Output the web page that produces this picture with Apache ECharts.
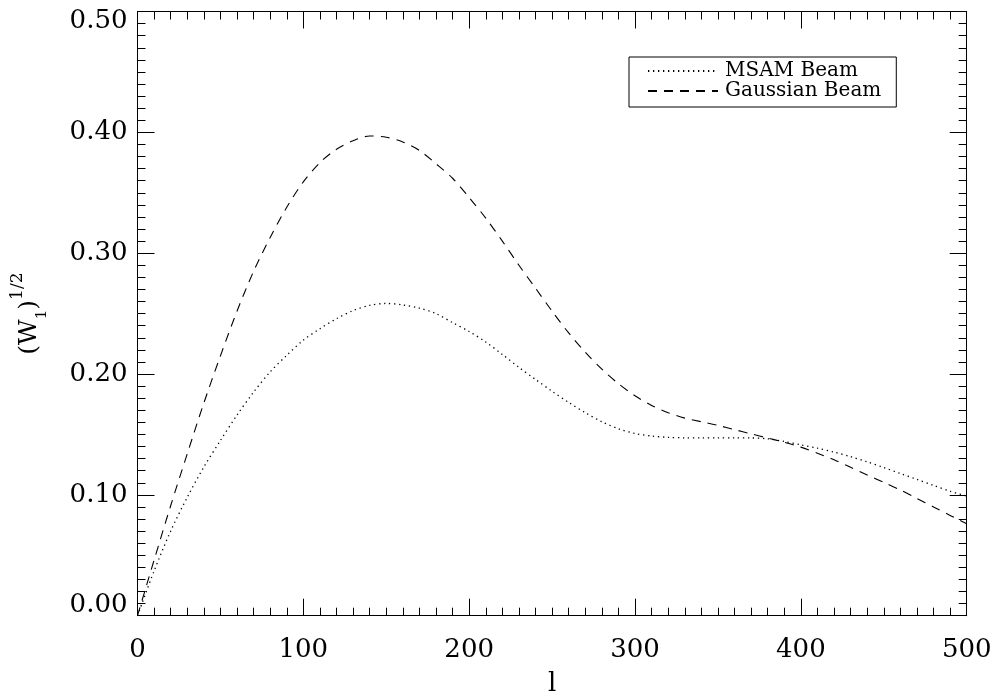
<!DOCTYPE html>
<html>
<head>
<meta charset="utf-8">
<script src="https://cdn.jsdelivr.net/npm/echarts@6/dist/echarts.min.js"></script>
<style>html,body{margin:0;padding:0;background:#fff;}#chart{width:998px;height:694px;}</style>
</head>
<body>
<div id="chart"></div>
<script>
const ells = [0,10,20,30,40,50,60,70,80,90,100,110,120,130,140,150,160,170,180,190,200,210,220,230,240,250,260,270,280,290,300,310,320,330,340,350,360,370,380,390,400,410,420,430,440,450,460,470,480,490,500];
const msamBeam = [0,0.037,0.070,0.098,0.123,0.145,0.166,0.185,0.2018,0.2155,0.228,0.2375,0.2458,0.2525,0.2568,0.2584,0.2572,0.2545,0.2500,0.2425,0.2352,0.2265,0.2162,0.2055,0.1955,0.1857,0.1765,0.168,0.1605,0.1547,0.1508,0.1487,0.1476,0.1472,0.1471,0.1472,0.1472,0.1471,0.1464,0.1442,0.1414,0.1386,0.1354,0.1316,0.1273,0.1226,0.1177,0.1128,0.1078,0.103,0.099];
const gaussBeam = [0,0.046,0.091,0.134,0.176,0.215,0.252,0.285,0.313,0.338,0.359,0.375,0.386,0.393,0.397,0.396,0.392,0.385,0.374,0.362,0.346,0.329,0.310,0.290,0.271,0.252,0.234,0.218,0.204,0.192,0.182,0.174,0.168,0.1635,0.1605,0.1575,0.154,0.1505,0.147,0.1435,0.1395,0.1345,0.129,0.1228,0.1165,0.1103,0.104,0.097,0.090,0.083,0.076];
const seriesNames = ['MSAM Beam','Gaussian Beam'];
const xTicks = [0,100,200,300,400,500];
const yTicks = [0,0.1,0.2,0.3,0.4,0.5];

const FONT = 'DejaVu Serif';
const chart = echarts.init(document.getElementById('chart'));

function pairs(xs, ys){ return xs.map((x,i)=>[x, ys[i]]); }

const axisCommon = {
  axisLine: {show:true, onZero:false, lineStyle:{color:'#000', width:1}},
  axisTick: {show:true, inside:true, length:17, lineStyle:{color:'#000', width:1}},
  minorTick: {show:true, splitNumber:10, length:8, lineStyle:{color:'#000', width:1}},
  splitLine: {show:false},
  minorSplitLine: {show:false}
};

chart.setOption({
  backgroundColor: '#fff',
  animation: false,
  grid: {left:137.5, top:11.5, right:31.3, bottom:78.3, containLabel:false, outerBoundsMode:'none'},
  legend: {
    left: 629, top: 57,
    orient: 'vertical',
    data: seriesNames,
    itemWidth: 70, itemHeight: 14, itemGap: 0,
    padding: [4, 15, 6, 18],
    borderColor: '#000', borderWidth: 1,
    backgroundColor: '#fff',
    itemStyle: {opacity: 0},
    textStyle: {fontFamily: FONT, fontSize: 20, color:'#000', lineHeight: 18, padding:[0,0,0,2]}
  },
  xAxis: [
    Object.assign({
      type:'value', min:xTicks[0], max:xTicks[xTicks.length-1], interval:100, position:'bottom',
      name: 'l', nameLocation:'middle', nameGap: 56,
      nameTextStyle: {fontFamily: FONT, fontSize: 26, color:'#000'},
      axisLabel: {show:true, margin: 22, fontFamily: FONT, fontSize: 26, color:'#000'}
    }, axisCommon),
    Object.assign({
      type:'value', min:xTicks[0], max:xTicks[xTicks.length-1], interval:100, position:'top',
      axisLabel: {show:false}
    }, axisCommon)
  ],
  yAxis: [
    Object.assign({
      type:'value', min:yTicks[0], max:yTicks[yTicks.length-1], interval:0.1, position:'left',
      name: '{m|(W}{sub|1}{m|)}{sup|1/2}', nameLocation:'middle', nameGap: 88, nameRotate: 90,
      nameTextStyle: {
        fontFamily: FONT, color:'#000',
        rich: {
          m: {fontFamily: FONT, fontSize: 25, color:'#000', lineHeight: 40, verticalAlign:'middle'},
          sub: {fontFamily: FONT, fontSize: 15, color:'#000', lineHeight: 22, verticalAlign:'bottom'},
          sup: {fontFamily: FONT, fontSize: 17, color:'#000', lineHeight: 22, verticalAlign:'top'}
        }
      },
      axisLabel: {show:true, margin: 10, fontFamily: FONT, fontSize: 26, color:'#000', lineHeight: 20,
        formatter: v => v.toFixed(2),
        verticalAlignMaxLabel: 'top', verticalAlignMinLabel: 'bottom'}
    }, axisCommon),
    Object.assign({
      type:'value', min:yTicks[0], max:yTicks[yTicks.length-1], interval:0.1, position:'right',
      axisLabel: {show:false}
    }, axisCommon)
  ],
  series: [
    {
      name: seriesNames[0], type:'line', xAxisIndex:0, yAxisIndex:0,
      data: pairs(ells, msamBeam), showSymbol:false, symbol:'none', smooth:0.3,
      lineStyle: {color:'#000', width:1.3, type:[1.3,3.7]},
      itemStyle: {color:'#000'}
    },
    {
      name: seriesNames[1], type:'line', xAxisIndex:0, yAxisIndex:0,
      data: pairs(ells, gaussBeam), showSymbol:false, symbol:'none', smooth:0.3,
      lineStyle: {color:'#000', width:1.1, type:[9,7]},
      itemStyle: {color:'#000'}
    }
  ]
});
</script>
</body>
</html>
